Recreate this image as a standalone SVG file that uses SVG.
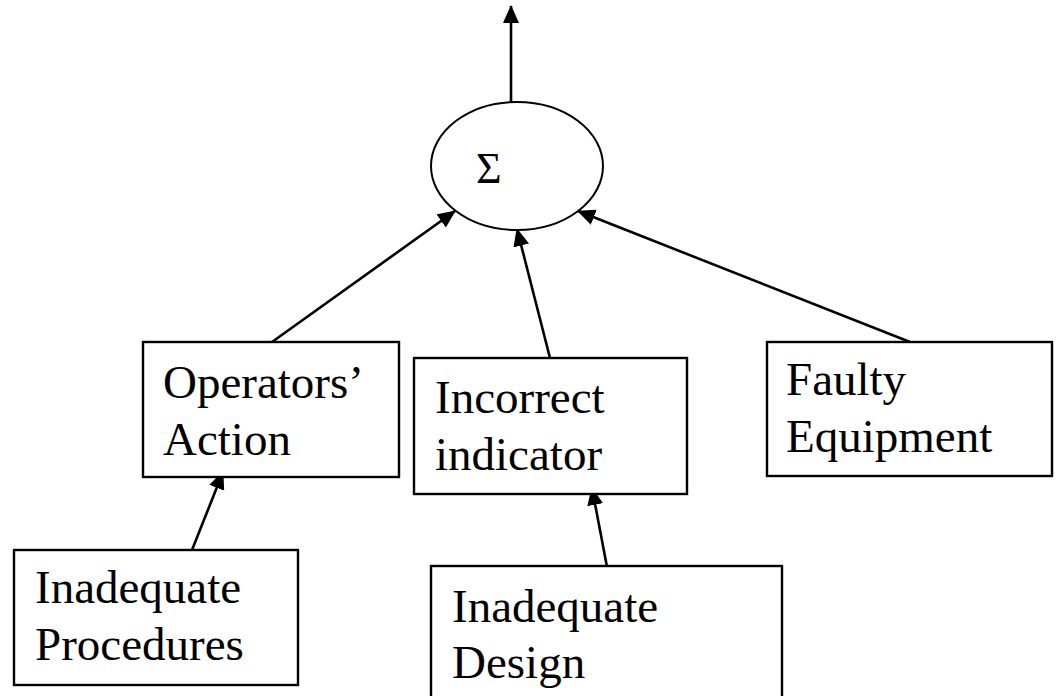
<svg xmlns="http://www.w3.org/2000/svg" width="1058" height="696" viewBox="0 0 1058 696">
  <style>
    .box { fill: #ffffff; stroke: #000000; stroke-width: 2.4; }
    .sum { fill: #ffffff; stroke: #000000; stroke-width: 2; }
    .label { font-family: "Liberation Serif", "DejaVu Serif", "Times New Roman", Times, serif; font-size: 47px; fill: #000000; }
    .sigma { font-family: "Liberation Serif", "DejaVu Serif", "Times New Roman", Times, serif; font-size: 44px; fill: #000000; }
    .edge { stroke: #000000; stroke-width: 2.6; fill: none; marker-end: url(#head); }
  </style>
  <defs>
    <marker id="head" markerUnits="userSpaceOnUse" markerWidth="19" markerHeight="17" refX="17" refY="8" orient="auto">
      <path d="M0,0 L18,8 L0,16 z" fill="#000000"/>
    </marker>
  </defs>

  <rect width="1058" height="696" fill="#ffffff"/>

  <!-- connectors -->
  <g id="connectors">
    <line class="edge" x1="511" y1="102" x2="511" y2="6"/>
    <line class="edge" x1="272" y1="342" x2="455" y2="211"/>
    <line class="edge" x1="550" y1="358" x2="517" y2="229"/>
    <line class="edge" x1="910" y1="342" x2="578" y2="211"/>
    <line class="edge" x1="192" y1="550" x2="223" y2="472"/>
    <line class="edge" x1="607" y1="567" x2="592" y2="488"/>
  </g>

  <!-- summing junction -->
  <g id="sum">
    <ellipse class="sum" cx="517" cy="166" rx="86" ry="64"/>
    <text class="sigma" x="476" y="183" font-family="Liberation Serif, serif">Σ</text>
  </g>

  <g id="operators-action">
    <rect class="box" x="143" y="342" width="256" height="135"/>
    <text class="label" x="163" y="398">Operators’</text>
    <text class="label" x="163" y="455">Action</text>
  </g>

  <g id="incorrect-indicator">
    <rect class="box" x="414" y="358" width="273" height="136"/>
    <text class="label" x="435" y="413">Incorrect</text>
    <text class="label" x="435" y="470">indicator</text>
  </g>

  <g id="faulty-equipment">
    <rect class="box" x="767" y="342" width="285" height="134"/>
    <text class="label" x="786" y="395">Faulty</text>
    <text class="label" x="786" y="452">Equipment</text>
  </g>

  <g id="inadequate-procedures">
    <rect class="box" x="14" y="550" width="284" height="135"/>
    <text class="label" x="35" y="603">Inadequate</text>
    <text class="label" x="35" y="660">Procedures</text>
  </g>

  <g id="inadequate-design">
    <rect class="box" x="431" y="566" width="351" height="140"/>
    <text class="label" x="452" y="622">Inadequate</text>
    <text class="label" x="452" y="678">Design</text>
  </g>
</svg>
